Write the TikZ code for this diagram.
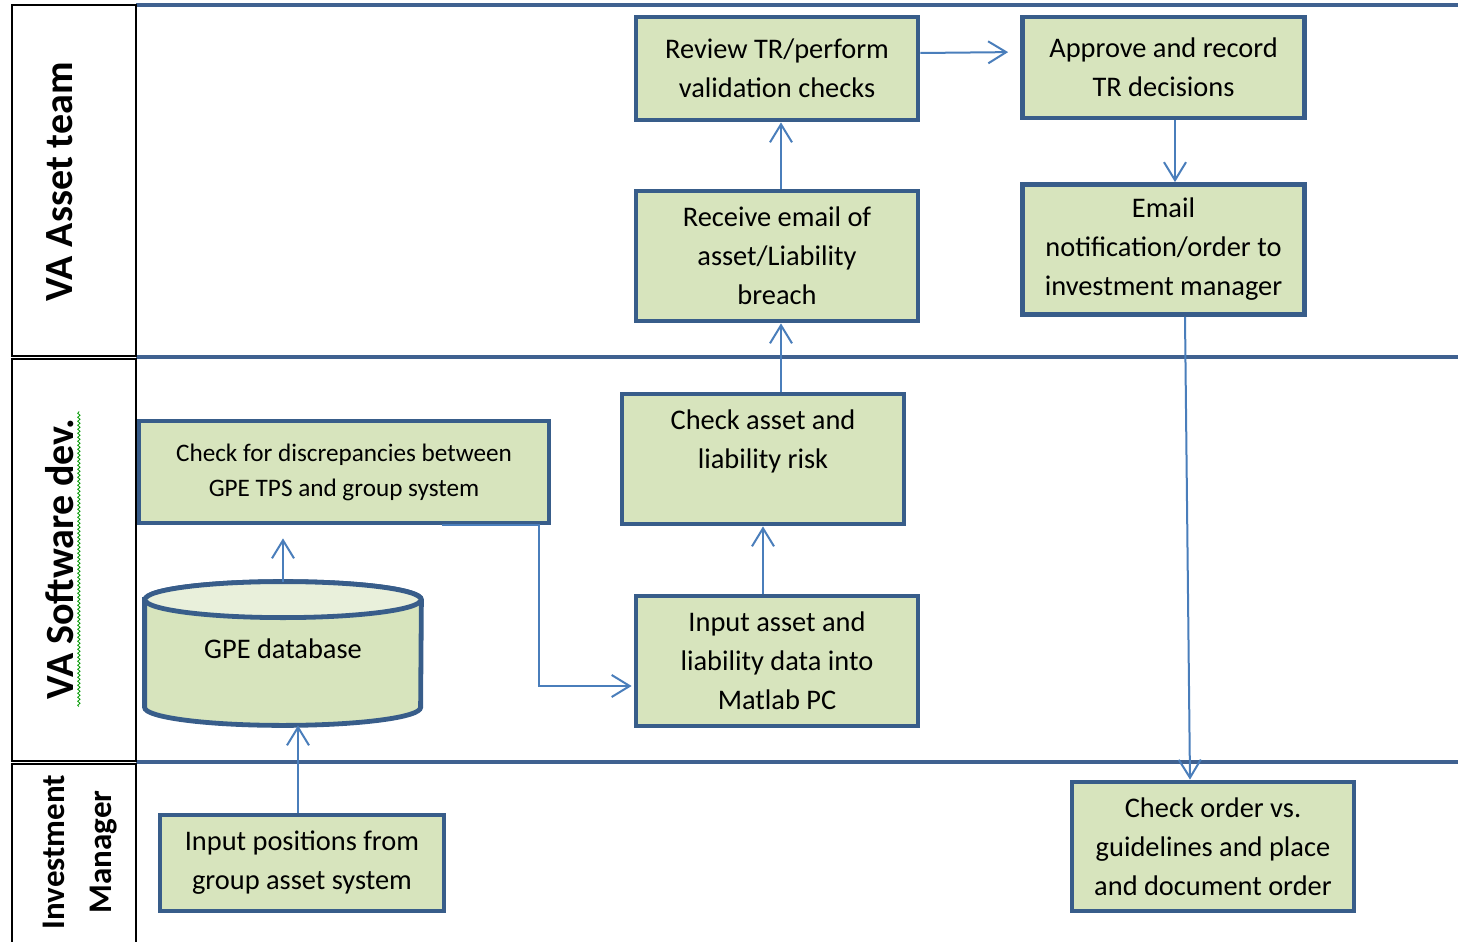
\documentclass[tikz,border=0pt]{standalone}
\usepackage{fontspec}
\setmainfont{Carlito}
\usetikzlibrary{arrows.meta,decorations.pathmorphing}
\definecolor{boxfill}{HTML}{D7E4BD}
\definecolor{boxline}{HTML}{385D8A}
\definecolor{flowline}{HTML}{4A7EBB}
\definecolor{laneline}{HTML}{3F6190}
\begin{document}
\begin{tikzpicture}[x=0.5pt,y=-0.5pt,
  task/.style={draw=boxline,fill=boxfill,line width=2.4pt,align=center,inner sep=0pt,
    minimum width=141pt,minimum height=65pt,font=\fontsize{14.2}{19.5}\selectfont},
  flow/.style={draw=flowline,line width=1pt,-{Straight Barb[length=9pt,width=11pt]}},
  lanebox/.style={draw=black,line width=1.2pt},
  lanelabel/.style={rotate=90,align=center,font=\bfseries\fontsize{20}{22}\selectfont}]
  \useasboundingbox (0,0) rectangle (1458,942);
  \foreach \y in {5,357,762} {
    \draw[laneline,line width=2pt] (136,\y) -- (1458,\y);
  }
  \draw[lanebox] (12,5) rectangle (136,356);
  \draw[lanebox] (12,359) rectangle (136,761);
  \draw[lanebox] (12,764) rectangle (136,950);
  \node[lanelabel] (asset) at (60,182) {VA Asset team};
  \node[lanelabel] (soft) at (60,559) {VA Software dev.};
  \draw[green!60!black,line width=0.4pt,decorate,decoration={snake,amplitude=0.6pt,segment length=2pt}]
    ([xshift=2.5pt]soft.base west) -- ([xshift=2.5pt]soft.base east);
  \node[lanelabel,font=\bfseries\fontsize{16.5}{23.5}\selectfont] (invest) at (80,852) {Investment\\Manager};

  \node[task,minimum height=51.5pt] (review) at (777,68.5) {Review TR/perform\\validation checks};
  \node[task,minimum height=50.5pt] (approve) at (1163.5,67.5) {Approve and record\\TR decisions};
  \node[task] (receive) at (777,256) {Receive email of\\asset/Liability\\breach};
  \node[task] (email) at (1163.5,249.5) {Email\\notification/order to\\investment manager};
  \node[task,minimum width=205pt,minimum height=51pt,font=\fontsize{12.6}{17.5}\selectfont] (disc) at (344,472)
    {Check for discrepancies between\\GPE TPS and group system};
  \node[task] (risk) at (763,459) {Check asset and\\liability risk\\\mbox{}};
  \node[task] (matlab) at (777,661) {Input asset and\\liability data into\\Matlab PC};
  \node[task,minimum width=142pt,minimum height=48pt] (positions) at (302,863) {Input positions from\\group asset system};
  \node[task,minimum height=64.5pt] (order) at (1213,846.5) {Check order vs.\\guidelines and place\\and document order};

  \node[inner sep=0pt,minimum width=138pt,minimum height=71.5pt] (gpe) at (283,653.5) {};
  \draw[draw=boxline,fill=boxfill,line width=2.4pt]
    ([yshift=-9pt]gpe.north west) -- ([yshift=9pt]gpe.south west)
    arc[start angle=180,end angle=360,x radius=69pt,y radius=9pt]
    -- ([yshift=-9pt]gpe.north east)
    arc[start angle=0,end angle=180,x radius=69pt,y radius=9pt] -- cycle;
  \draw[draw=boxline,fill=boxfill!55!white,line width=2.4pt] ([yshift=-9pt]gpe.north) ellipse[x radius=69pt,y radius=9pt];
  \node[font=\fontsize{14.2}{19.5}\selectfont] (gpetext) at ([yshift=2.25pt]gpe.center) {GPE database};

  \draw[flow,shorten >=6pt] ([yshift=7.75pt]review.east) -- ([yshift=7.75pt]approve.west);
  \draw[flow] ([xshift=5.75pt]approve.south) -- ([xshift=5.75pt]email.north);
  \coordinate (rr) at ([xshift=2pt]receive.south);
  \draw[flow] ([xshift=2pt]receive.north) -- ([xshift=2pt]review.south);
  \draw[flow] (rr |- risk.north) -- (rr);
  \draw[flow] (matlab.north -| risk.south) -- (risk.south);
  \draw[flow,shorten >=6.5pt] (gpe.north) -- (disc.south -| gpe.north);
  \draw[flow] ([xshift=-2pt]positions.north) -- ([xshift=-2pt]positions.north |- gpe.south);
  \draw[flow] ([xshift=-54.5pt]disc.south east) -- ([xshift=-6pt]disc.south east)
    |- ([yshift=-12.5pt,xshift=-1pt]matlab.west);
  \draw[flow] ([xshift=10.75pt]email.south) -- ([xshift=-11.5pt]order.north);
\end{tikzpicture}
\end{document}
